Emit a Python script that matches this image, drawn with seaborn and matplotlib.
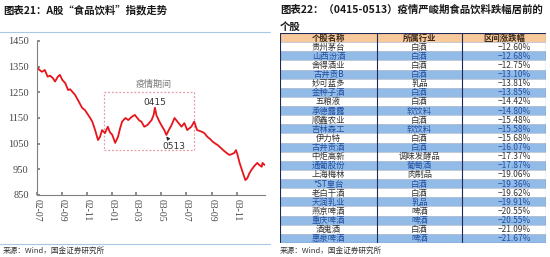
import matplotlib
matplotlib.use("Agg")
import matplotlib.pyplot as plt
import matplotlib.dates as mdates
import seaborn as sns
import pandas as pd
from matplotlib.patches import Rectangle
from matplotlib.lines import Line2D

sns.set_theme(style="white")
plt.rcParams['font.family'] = ['Noto Sans CJK SC', 'DejaVu Sans']

# ---------------- data: index line ----------------
dates = ["2002-07-01", "2002-07-05", "2002-07-13", "2002-07-20", "2002-07-27", "2002-08-02",
         "2002-08-09", "2002-08-14", "2002-08-21", "2002-08-26", "2002-09-01", "2002-09-08",
         "2002-09-15", "2002-09-20", "2002-09-25", "2002-10-02", "2002-10-09", "2002-10-14",
         "2002-10-19", "2002-10-26", "2002-11-03", "2002-11-08", "2002-11-13", "2002-11-20",
         "2002-11-27", "2002-12-02", "2002-12-07", "2002-12-14", "2002-12-21", "2002-12-26",
         "2003-01-01", "2003-01-08", "2003-01-15", "2003-01-20", "2003-01-25", "2003-02-02",
         "2003-02-09", "2003-02-18", "2003-02-25", "2003-03-03", "2003-03-08", "2003-03-13",
         "2003-03-20", "2003-03-28", "2003-04-07", "2003-04-12", "2003-04-15", "2003-04-19",
         "2003-04-26", "2003-05-03", "2003-05-08", "2003-05-13", "2003-05-19", "2003-05-25",
         "2003-06-02", "2003-06-09", "2003-06-19", "2003-06-26", "2003-07-03", "2003-07-13",
         "2003-07-20", "2003-07-27", "2003-08-07", "2003-08-14", "2003-08-21", "2003-08-28",
         "2003-09-03", "2003-09-10", "2003-09-15", "2003-09-20", "2003-09-28", "2003-10-07",
         "2003-10-14", "2003-10-21", "2003-10-26", "2003-10-30", "2003-11-03", "2003-11-08",
         "2003-11-15", "2003-11-22", "2003-11-27", "2003-12-02", "2003-12-07", "2003-12-14",
         "2003-12-21", "2003-12-26", "2004-01-01", "2004-01-03", "2004-01-08"]
index_values = [1350, 1340, 1330, 1337, 1311, 1315, 1305, 1292, 1311, 1318, 1298, 1286,
                1259, 1262, 1253, 1240, 1220, 1205, 1190, 1181, 1162, 1150, 1136, 1103,
                1064, 1077, 1103, 1091, 1116, 1095, 1084, 1053, 1077, 1110, 1136, 1150,
                1142, 1155, 1162, 1150, 1140, 1136, 1116, 1123, 1142, 1162, 1190, 1160,
                1136, 1116, 1103, 1084, 1103, 1120, 1150, 1136, 1116, 1130, 1103, 1116,
                1136, 1103, 1097, 1091, 1077, 1068, 1058, 1050, 1045, 1038, 1026, 1014,
                1006, 1010, 1014, 1025, 1006, 975, 941, 908, 916, 935, 948, 963,
                975, 967, 960, 975, 967]

# ---------------- data: table ----------------
col_headers = ["个股名称", "所属行业", "区间涨跌幅"]
stock_names = ["贵州茅台", "山西汾酒", "舍得酒业", "古井贡B", "妙可蓝多", "金种子酒", "五粮液",
               "承德露露", "顺鑫农业", "吉林森工", "伊力特", "古井贡酒", "中炬高新", "通葡股份",
               "上海梅林", "*ST皇台", "老白干酒", "天润乳业", "燕京啤酒", "重庆啤酒", "酒鬼酒", "惠泉啤酒"]
industries = ["白酒", "白酒", "白酒", "白酒", "乳品", "白酒", "白酒",
              "软饮料", "白酒", "软饮料", "白酒", "白酒", "调味发酵品", "葡萄酒",
              "肉制品", "白酒", "白酒", "乳品", "啤酒", "啤酒", "白酒", "啤酒"]
changes = [-12.60, -12.68, -12.75, -13.10, -13.81, -13.85, -14.42,
           -14.80, -15.48, -15.58, -15.68, -16.07, -17.37, -17.87,
           -19.06, -19.36, -19.62, -19.91, -20.55, -20.55, -21.09, -21.67]

df = pd.DataFrame({"date": pd.to_datetime(dates), "value": index_values})

W, H = 550, 257
fig = plt.figure(figsize=(W / 100, H / 100), dpi=100)
fig.patch.set_facecolor("white")

def fx(px):
    return px / W

def fy(py):
    return 1 - py / H

# ---------------- left line chart ----------------
ax = fig.add_axes([fx(37), fy(195), fx(265 - 37), fy(41) - fy(195)])
sns.lineplot(data=df, x="date", y="value", ax=ax, color="#E8141B", linewidth=1.3)
ax.set_xlim(pd.Timestamp("2002-07-01"), pd.Timestamp("2004-01-09"))
ax.set_ylim(850, 1450)
ax.set_yticks([850, 950, 1050, 1150, 1250, 1350, 1450])
xt = pd.to_datetime(["2002-07-01", "2002-09-01", "2002-11-01", "2003-01-01", "2003-03-01",
                     "2003-05-01", "2003-07-01", "2003-09-01", "2003-11-01"])
ax.set_xticks(xt)
ax.xaxis.set_major_formatter(mdates.DateFormatter("%y-%m"))
ax.set_xlabel("")
ax.set_ylabel("")
for s in ["top", "right"]:
    ax.spines[s].set_visible(False)
for s in ["left", "bottom"]:
    ax.spines[s].set_color("#808080")
    ax.spines[s].set_linewidth(0.8)
ax.tick_params(axis="y", direction="in", length=2.5, color="#808080", pad=6,
               labelsize=7.5, labelcolor="#444444", left=True)
ax.tick_params(axis="x", direction="in", length=2.5, color="#808080", pad=3,
               labelsize=7, labelcolor="#444444", bottom=True)
for lab in ax.get_yticklabels():
    lab.set_fontfamily("Liberation Serif")
for lab in ax.get_xticklabels():
    lab.set_fontfamily("Liberation Serif")
    lab.set_rotation(270)
    lab.set_va("top")
    lab.set_ha("center")
ax.grid(False)

# dashed epidemic period box
x0 = mdates.date2num(pd.Timestamp("2002-12-12"))
x1 = mdates.date2num(pd.Timestamp("2003-07-20"))
ax.add_patch(Rectangle((x0, 1024), x1 - x0, 1253 - 1024, fill=False,
                       edgecolor="#E79AA8", linestyle=(0, (1.5, 1.5)), linewidth=0.9))
ax.text(pd.Timestamp("2003-04-12"), 1280, "疫情期间", fontsize=6.5, color="#777777",
        ha="center", va="center")
ax.text(pd.Timestamp("2003-04-14"), 1210, "0415", fontsize=6.5, color="#333333",
        family="DejaVu Sans", ha="center", va="center")
ax.annotate("0513", xy=(pd.Timestamp("2003-05-13"), 1078),
            xytext=(pd.Timestamp("2003-05-31"), 1040), fontsize=6.5, color="#333333",
            family="DejaVu Sans", ha="center", va="center",
            arrowprops=dict(arrowstyle="-|>", color="#222222", lw=0.6,
                            mutation_scale=5, shrinkA=6, shrinkB=0))

# decorative lines and texts (left)
fig.add_artist(Line2D([fx(0), fx(270)], [fy(32), fy(32)], color="#A9C8E8", lw=0.8))
fig.add_artist(Line2D([fx(0), fx(270)], [fy(244), fy(244)], color="#A9C8E8", lw=0.8))
fig.text(fx(3), fy(10), "图表21：A股“食品饮料”指数走势", fontsize=7.5, fontweight="bold",
         color="#1a1a1a", va="center", ha="left")
fig.text(fx(3), fy(251), "来源：Wind，国金证券研究所", fontsize=5.5, color="#333333",
         va="center", ha="left")

# ---------------- right table ----------------
fig.text(fx(280), fy(10), "图表22：（0415-0513）疫情严峻期食品饮料跌幅居前的", fontsize=7.5,
         fontweight="bold", color="#1a1a1a", va="center", ha="left")
fig.text(fx(280), fy(27), "个股", fontsize=7.5, fontweight="bold", color="#1a1a1a",
         va="center", ha="left")
fig.text(fx(280), fy(251), "来源：Wind，国金证券研究所", fontsize=5.5, color="#333333",
         va="center", ha="left")

tab_left, tab_right, tab_top, tab_bottom = 280, 546, 33, 243
tax = fig.add_axes([fx(tab_left), fy(tab_bottom), fx(tab_right - tab_left), fy(tab_top) - fy(tab_bottom)])
nrows = len(stock_names) + 1
tax.set_xlim(tab_left, tab_right)
tax.set_ylim(nrows, 0)
tax.axis("off")
col_edges = [tab_left, 377, 462, tab_right]
header_color = "#F7C99B"
blue_color = "#92BBE8"
for r in range(nrows):
    if r == 0:
        fc = header_color
    elif r % 2 == 0:
        fc = blue_color
    else:
        fc = "white"
    tax.add_patch(Rectangle((tab_left, r), tab_right - tab_left, 1, facecolor=fc,
                            edgecolor="#B0B8C8", linewidth=0.4))
# header text
for c in range(3):
    cx = (col_edges[c] + col_edges[c + 1]) / 2
    tax.text(cx, 0.55, col_headers[c], fontsize=6, fontweight="bold", color="#3a2a1a",
             ha="center", va="center")
for i in range(len(stock_names)):
    r = i + 1
    tc = "#1F4FA0" if r % 2 == 0 else "#333333"
    vals = [stock_names[i], industries[i], f"−{abs(changes[i]):.2f}%"]
    for c in range(3):
        cx = (col_edges[c] + col_edges[c + 1]) / 2
        if c == 2:
            cx = cx + 10
        tax.text(cx, r + 0.55, vals[c], fontsize=6, color=tc, ha="center", va="center")
# column separators and border
for xe in col_edges[1:-1]:
    tax.plot([xe, xe], [0, nrows], color="#1F2A5A", lw=0.8)
tax.add_patch(Rectangle((tab_left, 0), tab_right - tab_left, nrows, fill=False,
                        edgecolor="#1F2A5A", linewidth=0.8))

fig.savefig("out.png", dpi=100, facecolor="white")
